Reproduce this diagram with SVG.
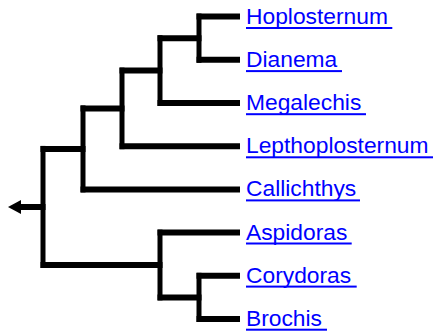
<svg xmlns="http://www.w3.org/2000/svg" width="435" height="334" viewBox="0 0 435 334">
<style>
.h{stroke:#000;stroke-width:6;fill:none}
.v{stroke:#000;stroke-width:5;fill:none}
.lbl{font-family:"Liberation Sans",Arial,sans-serif;font-size:22.8px;fill:#0000ff}
.ul{fill:#0000ff}
</style>
<rect width="435" height="334" fill="#ffffff"/>
<g id="connectors">
<line class="h" x1="20" y1="207" x2="45.5" y2="207"/>
<polygon points="8,207 21,200 21,214" fill="#000"/>
<line class="v" x1="43" y1="145.9" x2="43" y2="268"/>
<line class="h" x1="40.5" y1="148.9" x2="85.5" y2="148.9"/>
<line class="h" x1="40.5" y1="265" x2="162.5" y2="265"/>
<line class="v" x1="83" y1="105.4" x2="83" y2="192.4"/>
<line class="h" x1="80.5" y1="108.4" x2="124.5" y2="108.4"/>
<line class="h" x1="80.5" y1="189.4" x2="240" y2="189.4"/>
<line class="v" x1="122" y1="67.6" x2="122" y2="149.2"/>
<line class="h" x1="119.5" y1="70.6" x2="162.5" y2="70.6"/>
<line class="h" x1="119.5" y1="146.2" x2="240" y2="146.2"/>
<line class="v" x1="160" y1="35.2" x2="160" y2="106"/>
<line class="h" x1="157.5" y1="38.2" x2="201.5" y2="38.2"/>
<line class="h" x1="157.5" y1="103" x2="240" y2="103"/>
<line class="v" x1="199" y1="13.5" x2="199" y2="62.8"/>
<line class="h" x1="196.5" y1="16.5" x2="240" y2="16.5"/>
<line class="h" x1="196.5" y1="59.8" x2="240" y2="59.8"/>
<line class="v" x1="160" y1="229.6" x2="160" y2="300.4"/>
<line class="h" x1="157.5" y1="232.6" x2="240" y2="232.6"/>
<line class="h" x1="157.5" y1="297.4" x2="201.5" y2="297.4"/>
<line class="v" x1="199" y1="272.8" x2="199" y2="322"/>
<line class="h" x1="196.5" y1="275.8" x2="240" y2="275.8"/>
<line class="h" x1="196.5" y1="319" x2="240" y2="319"/>
</g>
<g id="hoplosternum"><text class="lbl" x="246" y="24">Hoplosternum</text><rect class="ul" x="246" y="27" width="146.3" height="2"/></g>
<g id="dianema"><text class="lbl" x="246" y="67.1">Dianema</text><rect class="ul" x="246" y="70.1" width="96" height="2"/></g>
<g id="megalechis"><text class="lbl" x="246" y="110.2">Megalechis</text><rect class="ul" x="246" y="113.2" width="120" height="2"/></g>
<g id="lepthoplosternum"><text class="lbl" x="246" y="153.3">Lepthoplosternum</text><rect class="ul" x="246" y="156.3" width="187" height="2"/></g>
<g id="callichthys"><text class="lbl" x="246" y="196.4">Callichthys</text><rect class="ul" x="246" y="199.4" width="114" height="2"/></g>
<g id="aspidoras"><text class="lbl" x="246" y="239.5">Aspidoras</text><rect class="ul" x="246" y="242.5" width="105.7" height="2"/></g>
<g id="corydoras"><text class="lbl" x="246" y="282.6">Corydoras</text><rect class="ul" x="246" y="285.6" width="110.7" height="2"/></g>
<g id="brochis"><text class="lbl" x="246" y="325.7">Brochis</text><rect class="ul" x="246" y="328.7" width="81" height="2"/></g>
</svg>
